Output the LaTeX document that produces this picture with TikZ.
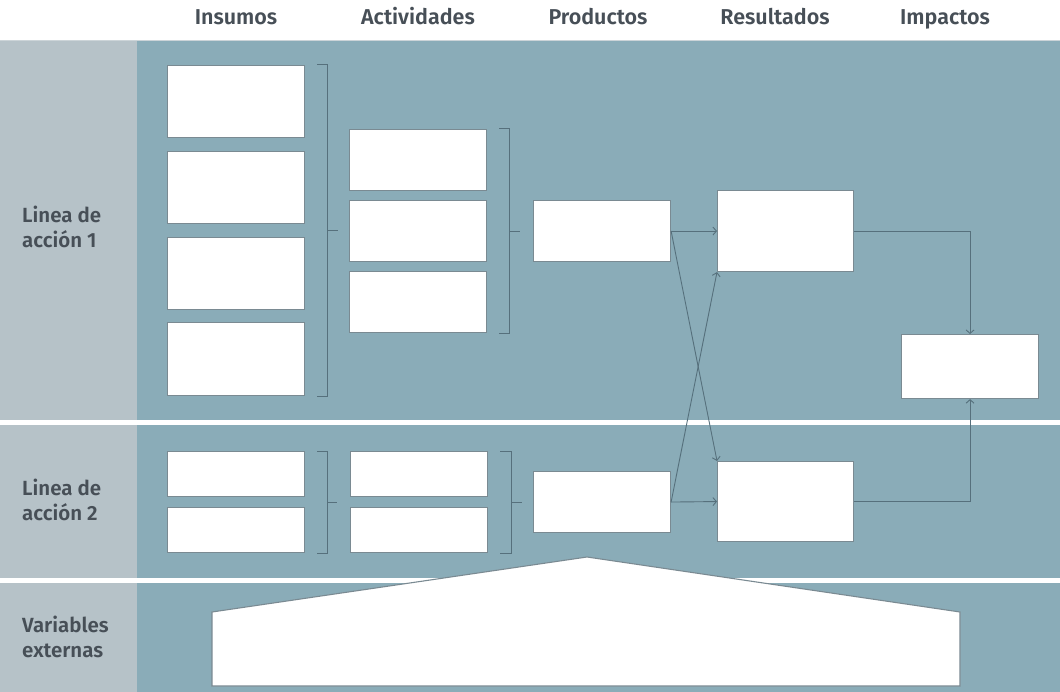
\documentclass[tikz,border=0pt]{standalone}
\usepackage{fontspec}
\setmainfont{Fira Sans SemiBold}
\usetikzlibrary{arrows.meta,calc}
\definecolor{bandblue}{HTML}{8AACB8}
\definecolor{bandgrey}{HTML}{B6C2C8}
\definecolor{inktext}{HTML}{474F57}
\definecolor{inkline}{HTML}{56707C}
\definecolor{boxedge}{HTML}{7A8A92}
\begin{document}
\begin{tikzpicture}[x=1pt,y={(0pt,-1pt)},
  box/.style={draw=boxedge,line width=1.1pt,fill=white,anchor=north west,inner sep=0pt},
  conn/.style={draw=inkline,line width=0.9pt,-{Straight Barb[length=3.5pt,width=8pt,line width=0.9pt]}},
  brace/.style={draw=inkline,line width=1pt},
  head/.style={text=inktext,font=\fontsize{21.5}{24}\selectfont,anchor=base},
  side/.style={text=inktext,font=\fontsize{20.5}{25}\selectfont,anchor=north west,align=left,inner sep=0pt}]
\useasboundingbox (0,0) rectangle (1060,692);
% bands
\fill[white] (0,0) rectangle (1060,692);
\fill[bandblue] (0,40) rectangle (1060,420);
\fill[bandblue] (0,425) rectangle (1060,578);
\fill[bandblue] (0,583) rectangle (1060,692);
\fill[bandgrey] (0,40) rectangle (137,420);
\fill[bandgrey] (0,425) rectangle (137,578);
\fill[bandgrey] (0,583) rectangle (137,692);
\draw[bandgrey!70!white,line width=1pt] (0,40.5) -- (1060,40.5);
% column headings
\node[head] (hI) at (236,25) {Insumos};
\node[head] (hA) at (418,25) {Actividades};
\node[head] (hP) at (598,25) {Productos};
\node[head] (hR) at (775,25) {Resultados};
\node[head] (hM) at (945,25) {Impactos};
% row labels
\node[side] (l1) at (22,206) {Linea de\\acción 1};
\node[side] (l2) at (22,479) {Linea de\\acción 2};
\node[side] (l3) at (22,616) {Variables\\externas};
% line 1: inputs
\node[box,minimum width=137pt,minimum height=72pt] (i1) at (167,65) {};
\node[box,minimum width=137pt,minimum height=72pt] (i2) at (167,151) {};
\node[box,minimum width=137pt,minimum height=72pt] (i3) at (167,237) {};
\node[box,minimum width=137pt,minimum height=73pt] (i4) at (167,322) {};
% line 1: activities
\node[box,minimum width=137pt,minimum height=61pt] (a1) at (349,129) {};
\node[box,minimum width=137pt,minimum height=61pt] (a2) at (349,200) {};
\node[box,minimum width=137pt,minimum height=61pt] (a3) at (349,271) {};
% products, results, impact
\node[box,minimum width=137pt,minimum height=61pt] (p1) at (533,200) {};
\node[box,minimum width=136pt,minimum height=81pt] (r1) at (717,190) {};
\node[box,minimum width=137pt,minimum height=64pt] (im) at (901,334) {};
% line 2
\node[box,minimum width=137pt,minimum height=45pt] (j1) at (167,451) {};
\node[box,minimum width=137pt,minimum height=45pt] (j2) at (167,507) {};
\node[box,minimum width=137pt,minimum height=45pt] (b1) at (350,451) {};
\node[box,minimum width=137pt,minimum height=45pt] (b2) at (350,507) {};
\node[box,minimum width=137pt,minimum height=61pt] (p2) at (533,471) {};
\node[box,minimum width=136pt,minimum height=80pt] (r2) at (717,461) {};
% brackets grouping inputs and activities
\draw[brace] ($(i1.north east)+(12,0)$) -- ($(i1.north east)+(22,0)$) -- ($(i4.south east)+(22,0)$) -- ($(i4.south east)+(12,0)$);
\draw[brace] ($(i1.north east)!0.5!(i4.south east)+(22,0)$) -- ($(i1.north east)!0.5!(i4.south east)+(33,0)$);
\draw[brace] ($(a1.north east)+(12,0)$) -- ($(a1.north east)+(22,0)$) -- ($(a3.south east)+(22,0)$) -- ($(a3.south east)+(12,0)$);
\draw[brace] ($(a1.north east)!0.5!(a3.south east)+(22,0)$) -- ($(a1.north east)!0.5!(a3.south east)+(33,0)$);
\draw[brace] ($(j1.north east)+(12,0)$) -- ($(j1.north east)+(22,0)$) -- ($(j2.south east)+(22,0)$) -- ($(j2.south east)+(12,0)$);
\draw[brace] ($(j1.north east)!0.5!(j2.south east)+(22,0)$) -- ($(j1.north east)!0.5!(j2.south east)+(32,0)$);
\draw[brace] ($(b1.north east)+(12,0)$) -- ($(b1.north east)+(23,0)$) -- ($(b2.south east)+(23,0)$) -- ($(b2.south east)+(12,0)$);
\draw[brace] ($(b1.north east)!0.5!(b2.south east)+(23,0)$) -- ($(b1.north east)!0.5!(b2.south east)+(34,0)$);
% connectors
\draw[conn] (p1.east) -- (r1.west);
\draw[conn] (p1.east) -- (r2.north west);
\draw[conn] (p2.east) -- (r2.west);
\draw[conn] (p2.east) -- (r1.south west);
\draw[conn] (r1.east) -| (im.north);
\draw[conn] (r2.east) -| (im.south);
% external variables
\draw[draw=boxedge,line width=1.1pt,fill=white] (212,686) -- (212,612) -- (587,557) -- (960,612) -- (960,686) -- cycle;
\end{tikzpicture}
\end{document}
